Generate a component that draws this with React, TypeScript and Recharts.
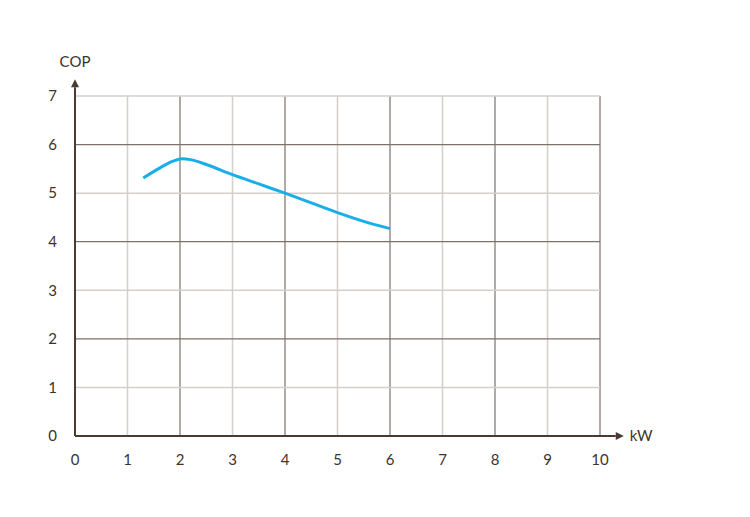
import React from "react";
import { LineChart, Line, XAxis, YAxis, ReferenceLine } from "recharts";

const kwValues = [1.3, 1.6, 1.8, 2.05, 2.2, 2.5, 3, 3.5, 4, 4.5, 5, 5.5, 6];
const copValues = [5.31, 5.51, 5.63, 5.71, 5.69, 5.59, 5.38, 5.19, 5.0, 4.8, 4.6, 4.42, 4.27];
const xTicks = [0, 1, 2, 3, 4, 5, 6, 7, 8, 9, 10];
const yTicks = [0, 1, 2, 3, 4, 5, 6, 7];

const data = kwValues.map((kw, i) => ({ kw, cop: copValues[i] }));

const DARK = "#7d716a";
const LIGHT = "#d5cfcb";
const AXIS = "#4a3a2f";
const TEXT = "#3b332e";
const FONT = "Lato, 'DejaVu Sans', sans-serif";

const ArrowX = (props: any) => {
  const { x1, y1, x2, y2 } = props;
  return (
    <g>
      <line x1={x1} y1={y1} x2={x2} y2={y2} stroke={AXIS} strokeWidth={2} />
      <polygon points={`${x2 + 8},${y2} ${x2},${y2 - 4} ${x2},${y2 + 4}`} fill={AXIS} />
    </g>
  );
};

const ArrowY = (props: any) => {
  const { x1, y1, x2, y2 } = props;
  const top = Math.min(y1, y2);
  return (
    <g>
      <line x1={x1} y1={y1} x2={x2} y2={y2} stroke={AXIS} strokeWidth={2} />
      <polygon points={`${x1},${top - 8} ${x1 - 4},${top} ${x1 + 4},${top}`} fill={AXIS} />
    </g>
  );
};

export default function App() {
  return (
    <div style={{ width: 734, height: 501, fontFamily: FONT }}>
      <LineChart
        width={734}
        height={501}
        data={data}
        margin={{ top: 88, right: 142, bottom: 43, left: 27 }}
      >
        {xTicks.map((t) => (
          <ReferenceLine
            key={"vx" + t}
            x={t}
            stroke={t % 2 === 0 ? DARK : LIGHT}
            strokeWidth={t % 2 === 0 ? 1.2 : 1.5}
          />
        ))}
        {yTicks.map((t) => (
          <ReferenceLine
            key={"hy" + t}
            y={t}
            stroke={t % 2 === 0 ? DARK : LIGHT}
            strokeWidth={t % 2 === 0 ? 1.2 : 1.5}
          />
        ))}
        <XAxis
          dataKey="kw"
          type="number"
          domain={[0, 10]}
          ticks={xTicks}
          axisLine={false}
          tickLine={false}
          tickSize={0}
          tickMargin={18}
          height={30}
          tick={{ fill: TEXT, fontSize: 15, fontFamily: FONT }}
          interval={0}
        />
        <YAxis
          type="number"
          domain={[0, 7]}
          ticks={yTicks}
          axisLine={false}
          tickLine={false}
          tickSize={0}
          tickMargin={18}
          width={40}
          tick={{ fill: TEXT, fontSize: 15, fontFamily: FONT }}
          interval={0}
        />
        <ReferenceLine
          segment={[{ x: 0, y: 0 }, { x: 10.3, y: 0 }]}
          ifOverflow="visible"
          shape={ArrowX}
          label={{ value: "kW", position: "right", offset: 14, fill: TEXT, fontSize: 15, fontFamily: FONT }}
        />
        <ReferenceLine
          segment={[{ x: 0, y: 0 }, { x: 0, y: 7.18 }]}
          ifOverflow="visible"
          shape={ArrowY}
          label={{ value: "COP", position: "top", offset: 20, fill: TEXT, fontSize: 15, fontFamily: FONT }}
        />
        <Line
          type="monotone"
          dataKey="cop"
          stroke="#1aaee6"
          strokeWidth={3}
          dot={false}
          isAnimationActive={false}
        />
      </LineChart>
    </div>
  );
}
